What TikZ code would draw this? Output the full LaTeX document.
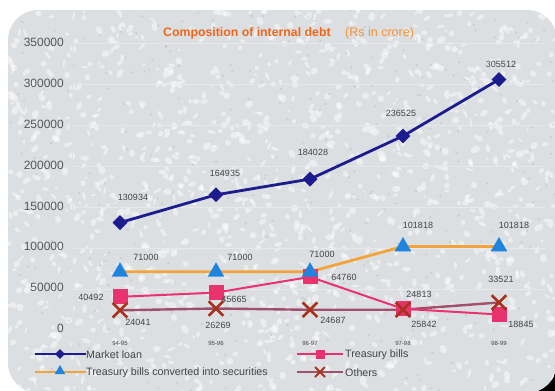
\documentclass[tikz,border=0pt]{standalone}
\usepackage{fontspec}
\setmainfont{Liberation Sans}
\usetikzlibrary{shapes.geometric,shapes.misc}
\definecolor{panel}{HTML}{DCDFE1}
\definecolor{navyl}{HTML}{1C1C8E}
\definecolor{orangel}{HTML}{F2A43A}
\definecolor{trib}{HTML}{1F84E0}
\definecolor{pinkl}{HTML}{E8336E}
\definecolor{mauvel}{HTML}{A0506A}
\definecolor{xred}{HTML}{A8321E}
\definecolor{titleo}{HTML}{F0651A}
\definecolor{titlel}{HTML}{F39238}
\definecolor{lbl}{HTML}{444444}
\tikzset{
  diam/.style={diamond,fill=navyl,inner sep=0pt,minimum size=15pt},
  tri/.style={regular polygon,regular polygon sides=3,fill=trib,inner sep=0pt,minimum size=19pt},
  sq/.style={rectangle,fill=pinkl,inner sep=0pt,minimum size=15pt},
  xm/.style={cross out,draw=xred,line width=2.6pt,inner sep=0pt,minimum size=12pt},
  dlbl/.style={font=\fontsize{9}{10}\selectfont,text=lbl,inner sep=0pt},
  ylbl/.style={font=\fontsize{12}{13}\selectfont,text=lbl!90,anchor=east,inner sep=0pt},
  xlbl/.style={font=\fontsize{6}{7}\selectfont,text=lbl,inner sep=0pt},
  leg/.style={font=\fontsize{10.7}{12}\selectfont,text=lbl,anchor=west,inner sep=0pt},
  mline/.style={navyl,line width=2.8pt},
  oline/.style={orangel,line width=2.8pt},
  pline/.style={pinkl,line width=2pt},
  rline/.style={mauvel,line width=2.4pt},
  grid/.style={white!82!gray,line width=0.5pt}
}
\begin{document}
\begin{tikzpicture}[x=1pt,y=-1pt]
\useasboundingbox (0,0) rectangle (555,391);
\fill[white] (0,0) rectangle (555,391);
\fill[black] (515,360) rectangle (555,391);
\begin{scope}
\clip[rounded corners=30pt] (8,10) rectangle (557,393);
\fill[panel] (0,0) rectangle (557,393);
\pgfmathsetseed{7}
\foreach \k in {1,...,1300} {
  \pgfmathsetmacro{\px}{8+549*rnd}
  \pgfmathsetmacro{\py}{10+383*rnd}
  \pgfmathsetmacro{\rx}{1.5+3.5*rnd}
  \pgfmathsetmacro{\ry}{1+2.5*rnd}
  \pgfmathsetmacro{\ra}{180*rnd}
  \fill[white,opacity=0.45,rotate around={\ra:(\px,\py)}] (\px,\py) ellipse [x radius=\rx pt, y radius=\ry pt];
}
\foreach \k in {1,...,300} {
  \pgfmathsetmacro{\px}{8+549*rnd}
  \pgfmathsetmacro{\py}{10+383*rnd}
  \fill[gray,opacity=0.2] (\px,\py) circle [radius=1.2pt];
}
\end{scope}
% grid and axis
\foreach \yy in {43,84,125,166,207,248,289} \draw[grid] (72,\yy) -- (545,\yy);
\draw[white!75!gray,line width=0.6pt] (72,43) -- (72,330);
% y labels
\node[ylbl] (y0) at (64,328) {0};
\node[ylbl] (y1) at (64,287) {50000};
\node[ylbl] (y2) at (64,246) {100000};
\node[ylbl] (y3) at (64,206) {150000};
\node[ylbl] (y4) at (64,165) {200000};
\node[ylbl] (y5) at (64,124) {250000};
\node[ylbl] (y6) at (64,83) {300000};
\node[ylbl] (y7) at (64,42) {350000};
% title
\node[font=\bfseries\fontsize{12.3}{13}\selectfont,text=titleo,anchor=west,inner sep=0pt] (title) at (163,33) {Composition of internal debt};
\node[font=\fontsize{12.5}{13}\selectfont,text=titlel,anchor=west,inner sep=0pt] (unit) at (345,33) {(Rs in crore)};
% x labels
\node[xlbl] (c1) at (120,343) {94-95};
\node[xlbl] (c2) at (216,343) {95-96};
\node[xlbl] (c3) at (310,343) {96-97};
\node[xlbl] (c4) at (403,343) {97-98};
\node[xlbl] (c5) at (499,343) {98-99};
% coordinates
\coordinate (m1) at (120,222.6); \coordinate (m2) at (216,194.8); \coordinate (m3) at (310,179.1); \coordinate (m4) at (403,136.0); \coordinate (m5) at (499,79.5);
\coordinate (t1) at (120,271.8); \coordinate (t2) at (216,271.8); \coordinate (t3) at (310,271.8); \coordinate (t4) at (403,246.5); \coordinate (t5) at (499,246.5);
\coordinate (b1) at (120,296.8); \coordinate (b2) at (216,292.6); \coordinate (b3) at (310,276.9); \coordinate (b4) at (403,308.8); \coordinate (b5) at (499,314.5);
\coordinate (o1) at (120,310.3); \coordinate (o2) at (216,308.5); \coordinate (o3) at (310,309.8); \coordinate (o4) at (403,309.7); \coordinate (o5) at (499,302.5);
% lines
\draw[rline] (o1) -- (o2) -- (o3) -- (o4) -- (o5);
\draw[pline] (b1) -- (b2) -- (b3) -- (b4) -- (b5);
\draw[oline] (t1) -- (t2) -- (t3) -- (t4) -- (t5);
\draw[mline] (m1) -- (m2) -- (m3) -- (m4) -- (m5);
% markers
\foreach \i in {1,...,5} {
  \node[sq] (bs\i) at (b\i) {};
  \node[xm] (ox\i) at (o\i) {};
  \node[tri] (tt\i) at (t\i) {};
  \node[diam] (md\i) at (m\i) {};
}
% data labels
\node[dlbl] (lm1) at (133,197) {130934};
\node[dlbl] (lm2) at (225,173) {164935};
\node[dlbl] (lm3) at (313,152) {184028};
\node[dlbl] (lm4) at (401,113) {236525};
\node[dlbl] (lm5) at (501,64) {305512};
\node[dlbl] (lt1) at (146,257) {71000};
\node[dlbl] (lt2) at (240,257) {71000};
\node[dlbl] (lt3) at (322,254) {71000};
\node[dlbl] (lt4) at (418,225) {101818};
\node[dlbl] (lt5) at (514,225) {101818};
\node[dlbl] (lb1) at (91,297) {40492};
\node[dlbl] (lb2) at (234,299) {45665};
\node[dlbl] (lb3) at (344,277) {64760};
\node[dlbl] (lb4) at (419,294) {24813};
\node[dlbl] (lb5) at (521,324) {18845};
\node[dlbl] (lo1) at (138,322) {24041};
\node[dlbl] (lo2) at (218,325) {26269};
\node[dlbl] (lo3) at (333,320) {24687};
\node[dlbl] (lo4) at (424,324) {25842};
\node[dlbl] (lo5) at (501,279) {33521};
% legend
\coordinate (la1) at (35,354); \coordinate (la2) at (86,354);
\coordinate (lb1a) at (35,372); \coordinate (lb2a) at (86,372);
\coordinate (lc1) at (297,354); \coordinate (lc2) at (343,354);
\coordinate (ld1) at (297,372); \coordinate (ld2) at (343,372);
\draw[navyl,line width=2.4pt] (la1) -- (la2);
\node[diam,minimum size=10pt] (legm) at (60,354) {};
\node[leg] (legmt) at (86,355) {Market loan};
\draw[orangel,line width=2.4pt] (lb1a) -- (lb2a);
\node[tri,minimum size=12pt] (legt) at (60,371) {};
\node[leg] (legtt) at (86,373) {Treasury bills converted into securities};
\draw[pinkl,line width=1.8pt] (lc1) -- (lc2);
\node[sq,minimum size=9pt] (legb) at (320,354) {};
\node[leg] (legbt) at (345,355) {Treasury bills};
\draw[mauvel,line width=1.8pt] (ld1) -- (ld2);
\node[xm,minimum size=8pt,line width=2pt] (lego) at (320,372) {};
\node[leg] (legot) at (345,373) {Others};
\end{tikzpicture}
\end{document}
